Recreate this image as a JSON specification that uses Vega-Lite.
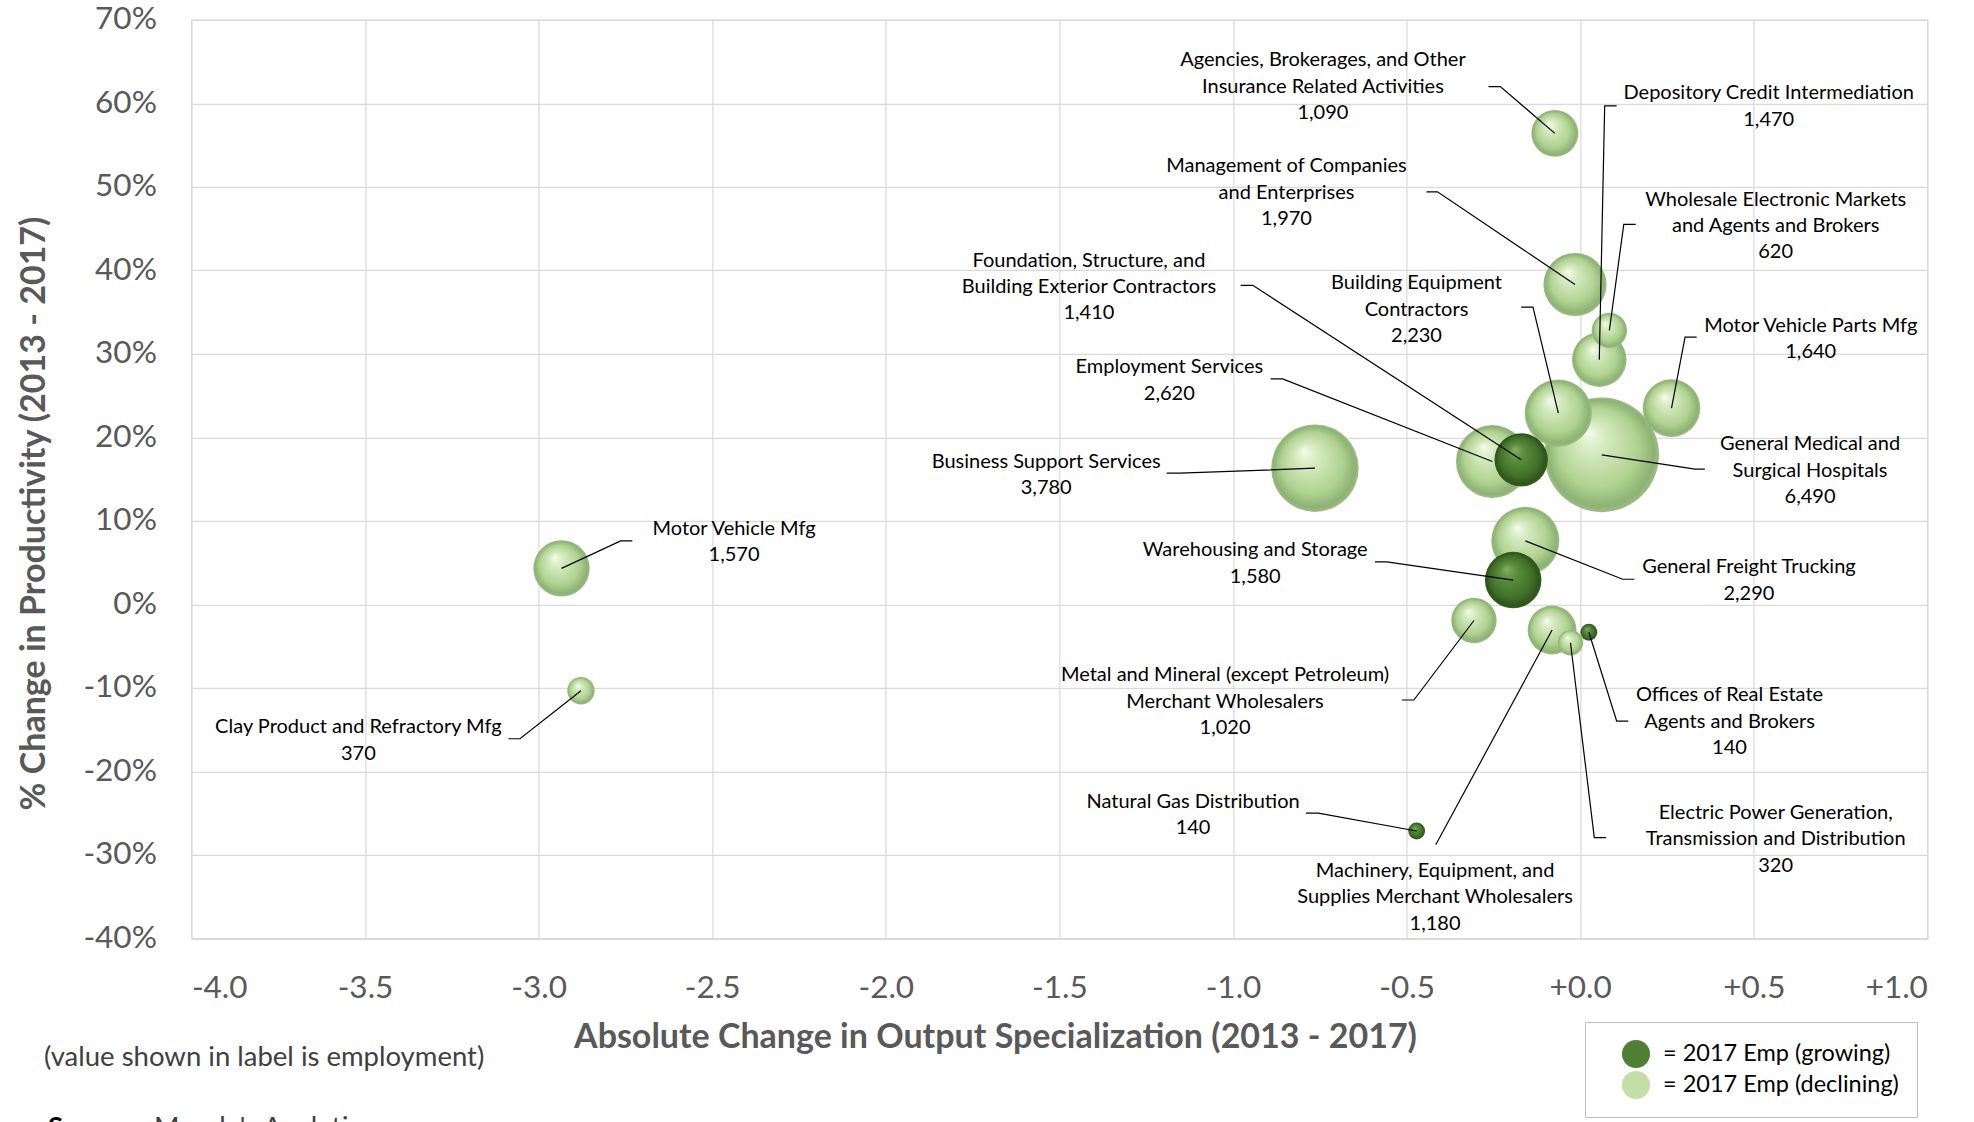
{
  "$schema": "https://vega.github.io/schema/vega-lite/v6.json",
  "autosize": "none",
  "width": 1736,
  "height": 918.5,
  "padding": {"left": 191.4, "top": 19.8, "right": 46.6, "bottom": 183.7},
  "background": "white",
  "config": {
    "view": {"stroke": "#d9d9d9", "strokeWidth": 1.2},
    "font": "Lato",
    "axis": {
      "grid": true, "gridColor": "#d9d9d9", "gridWidth": 1.2,
      "domain": false, "ticks": false,
      "labelFont": "Lato", "labelFontSize": 31.5, "labelColor": "#595959",
      "titleFont": "Lato", "titleFontSize": 34, "titleFontWeight": "bold", "titleColor": "#595959"
    }
  },
  "datasets": {
    "bubbles": [
      {"name": "Agencies", "x": -0.073, "y": 56.4, "emp": 1090, "trend": "declining"},
      {"name": "Depository", "x": 0.055, "y": 29.3, "emp": 1470, "trend": "declining"},
      {"name": "Management", "x": -0.015, "y": 38.3, "emp": 1970, "trend": "declining"},
      {"name": "Wholesale Electronic", "x": 0.084, "y": 32.8, "emp": 620, "trend": "declining"},
      {"name": "Building Equipment", "x": -0.063, "y": 22.9, "emp": 2230, "trend": "declining"},
      {"name": "Motor Vehicle Parts", "x": 0.263, "y": 23.5, "emp": 1640, "trend": "declining"},
      {"name": "General Medical", "x": 0.062, "y": 17.9, "emp": 6490, "trend": "declining"},
      {"name": "Foundation", "x": -0.170, "y": 17.3, "emp": 1410, "trend": "growing"},
      {"name": "Employment", "x": -0.253, "y": 17.1, "emp": 2620, "trend": "declining"},
      {"name": "Business Support", "x": -0.764, "y": 16.3, "emp": 3780, "trend": "declining"},
      {"name": "Motor Vehicle Mfg", "x": -2.934, "y": 4.3, "emp": 1570, "trend": "declining"},
      {"name": "Clay Product", "x": -2.878, "y": -10.35, "emp": 370, "trend": "declining"},
      {"name": "Warehousing", "x": -0.193, "y": 2.9, "emp": 1580, "trend": "growing"},
      {"name": "General Freight", "x": -0.158, "y": 7.6, "emp": 2290, "trend": "declining"},
      {"name": "Metal and Mineral", "x": -0.306, "y": -1.94, "emp": 1020, "trend": "declining"},
      {"name": "Natural Gas", "x": -0.471, "y": -27.15, "emp": 140, "trend": "growing"},
      {"name": "Machinery", "x": -0.081, "y": -3.08, "emp": 1180, "trend": "declining"},
      {"name": "Offices of Real Estate", "x": 0.025, "y": -3.35, "emp": 140, "trend": "growing"},
      {"name": "Electric Power", "x": -0.028, "y": -4.6, "emp": 320, "trend": "declining"}
    ],
    "labels": [
      {"name": "Agencies", "x": -0.741, "y": 65.16, "text": "Agencies, Brokerages, and Other\nInsurance Related Activities\n1,090"},
      {"name": "Depository", "x": 0.543, "y": 61.18, "text": "Depository Credit Intermediation\n1,470"},
      {"name": "Management", "x": -0.846, "y": 52.46, "text": "Management of Companies\nand Enterprises\n1,970"},
      {"name": "Wholesale Electronic", "x": 0.563, "y": 48.46, "text": "Wholesale Electronic Markets\nand Agents and Brokers\n620"},
      {"name": "Building Equipment", "x": -0.4715, "y": 38.46, "text": "Building Equipment\nContractors\n2,230"},
      {"name": "Motor Vehicle Parts", "x": 0.664, "y": 33.38, "text": "Motor Vehicle Parts Mfg\n1,640"},
      {"name": "General Medical", "x": 0.662, "y": 19.16, "text": "General Medical and\nSurgical Hospitals\n6,490"},
      {"name": "Foundation", "x": -1.415, "y": 41.16, "text": "Foundation, Structure, and\nBuilding Exterior Contractors\n1,410"},
      {"name": "Employment", "x": -1.1835, "y": 28.38, "text": "Employment Services\n2,620"},
      {"name": "Business Support", "x": -1.538, "y": 17.08, "text": "Business Support Services\n3,780"},
      {"name": "Motor Vehicle Mfg", "x": -2.437, "y": 9.04, "text": "Motor Vehicle Mfg\n1,570"},
      {"name": "Clay Product", "x": -3.519, "y": -14.72, "text": "Clay Product and Refractory Mfg\n370"},
      {"name": "Warehousing", "x": -0.936, "y": 6.48, "text": "Warehousing and Storage\n1,580"},
      {"name": "General Freight", "x": 0.486, "y": 4.43, "text": "General Freight Trucking\n2,290"},
      {"name": "Metal and Mineral", "x": -1.023, "y": -8.5, "text": "Metal and Mineral (except Petroleum)\nMerchant Wholesalers\n1,020"},
      {"name": "Natural Gas", "x": -1.115, "y": -23.62, "text": "Natural Gas Distribution\n140"},
      {"name": "Machinery", "x": -0.418, "y": -31.94, "text": "Machinery, Equipment, and\nSupplies Merchant Wholesalers\n1,180"},
      {"name": "Offices of Real Estate", "x": 0.430, "y": -10.9, "text": "Offices of Real Estate\nAgents and Brokers\n140"},
      {"name": "Electric Power", "x": 0.563, "y": -24.98, "text": "Electric Power Generation,\nTransmission and Distribution\n320"}
    ],
    "leaders": [
      {"name": "Agencies", "ord": 1, "x": -0.264, "y": 62.0},
      {"name": "Agencies", "ord": 2, "x": -0.230, "y": 62.0},
      {"name": "Agencies", "ord": 3, "x": -0.073, "y": 56.4},
      {"name": "Depository", "ord": 1, "x": 0.105, "y": 59.7},
      {"name": "Depository", "ord": 2, "x": 0.0705, "y": 59.7},
      {"name": "Depository", "ord": 3, "x": 0.055, "y": 29.3},
      {"name": "Management", "ord": 1, "x": -0.443, "y": 49.4},
      {"name": "Management", "ord": 2, "x": -0.411, "y": 49.4},
      {"name": "Management", "ord": 3, "x": -0.015, "y": 38.3},
      {"name": "Wholesale Electronic", "ord": 1, "x": 0.160, "y": 45.5},
      {"name": "Wholesale Electronic", "ord": 2, "x": 0.1255, "y": 45.5},
      {"name": "Wholesale Electronic", "ord": 3, "x": 0.084, "y": 32.8},
      {"name": "Building Equipment", "ord": 1, "x": -0.170, "y": 35.6},
      {"name": "Building Equipment", "ord": 2, "x": -0.136, "y": 35.6},
      {"name": "Building Equipment", "ord": 3, "x": -0.063, "y": 22.9},
      {"name": "Motor Vehicle Parts", "ord": 1, "x": 0.3355, "y": 32.0},
      {"name": "Motor Vehicle Parts", "ord": 2, "x": 0.302, "y": 32.0},
      {"name": "Motor Vehicle Parts", "ord": 3, "x": 0.263, "y": 23.5},
      {"name": "General Medical", "ord": 1, "x": 0.359, "y": 16.2},
      {"name": "General Medical", "ord": 2, "x": 0.331, "y": 16.2},
      {"name": "General Medical", "ord": 3, "x": 0.062, "y": 17.9},
      {"name": "Foundation", "ord": 1, "x": -0.978, "y": 38.2},
      {"name": "Foundation", "ord": 2, "x": -0.943, "y": 38.2},
      {"name": "Foundation", "ord": 3, "x": -0.170, "y": 17.3},
      {"name": "Employment", "ord": 1, "x": -0.8915, "y": 27.0},
      {"name": "Employment", "ord": 2, "x": -0.857, "y": 27.0},
      {"name": "Employment", "ord": 3, "x": -0.253, "y": 17.1},
      {"name": "Business Support", "ord": 1, "x": -1.191, "y": 15.7},
      {"name": "Business Support", "ord": 2, "x": -1.153, "y": 15.7},
      {"name": "Business Support", "ord": 3, "x": -0.764, "y": 16.3},
      {"name": "Motor Vehicle Mfg", "ord": 1, "x": -2.730, "y": 7.6},
      {"name": "Motor Vehicle Mfg", "ord": 2, "x": -2.7635, "y": 7.6},
      {"name": "Motor Vehicle Mfg", "ord": 3, "x": -2.934, "y": 4.3},
      {"name": "Clay Product", "ord": 1, "x": -3.087, "y": -16.1},
      {"name": "Clay Product", "ord": 2, "x": -3.0536, "y": -16.1},
      {"name": "Clay Product", "ord": 3, "x": -2.878, "y": -10.35},
      {"name": "Warehousing", "ord": 1, "x": -0.591, "y": 5.07},
      {"name": "Warehousing", "ord": 2, "x": -0.557, "y": 5.07},
      {"name": "Warehousing", "ord": 3, "x": -0.193, "y": 2.9},
      {"name": "General Freight", "ord": 1, "x": 0.156, "y": 3.0},
      {"name": "General Freight", "ord": 2, "x": 0.1224, "y": 3.0},
      {"name": "General Freight", "ord": 3, "x": -0.158, "y": 7.6},
      {"name": "Metal and Mineral", "ord": 1, "x": -0.514, "y": -11.46},
      {"name": "Metal and Mineral", "ord": 2, "x": -0.479, "y": -11.46},
      {"name": "Metal and Mineral", "ord": 3, "x": -0.306, "y": -1.94},
      {"name": "Natural Gas", "ord": 1, "x": -0.790, "y": -25.0},
      {"name": "Natural Gas", "ord": 2, "x": -0.7543, "y": -25.0},
      {"name": "Natural Gas", "ord": 3, "x": -0.471, "y": -27.15},
      {"name": "Machinery", "ord": 1, "x": -0.416, "y": -28.8},
      {"name": "Machinery", "ord": 2, "x": -0.081, "y": -3.08},
      {"name": "Offices of Real Estate", "ord": 1, "x": 0.1385, "y": -13.98},
      {"name": "Offices of Real Estate", "ord": 2, "x": 0.105, "y": -13.98},
      {"name": "Offices of Real Estate", "ord": 3, "x": 0.025, "y": -3.35},
      {"name": "Electric Power", "ord": 1, "x": 0.0743, "y": -27.95},
      {"name": "Electric Power", "ord": 2, "x": 0.0406, "y": -27.95},
      {"name": "Electric Power", "ord": 3, "x": -0.028, "y": -4.6}
    ],
    "xticks": [{"x": -4}, {"x": -3.5}, {"x": -3}, {"x": -2.5}, {"x": -2}, {"x": -1.5}, {"x": -1}, {"x": -0.5}, {"x": 0}, {"x": 0.5}, {"x": 1}],
    "yticks": [{"y": -40}, {"y": -30}, {"y": -20}, {"y": -10}, {"y": 0}, {"y": 10}, {"y": 20}, {"y": 30}, {"y": 40}, {"y": 50}, {"y": 60}, {"y": 70}],
    "notes": [
      {"x": -4.4245, "y": -55.35, "text": "(value shown in label is employment)"},
      {"x": -4.108, "y": -63.7, "text": "Moody's Analytics"}
    ],
    "notesBold": [
      {"x": -4.413, "y": -63.7, "text": "Source:"}
    ]
  },
  "encoding": {
    "x": {
      "field": "x", "type": "quantitative",
      "scale": {"domain": [-4, 1], "nice": false, "zero": false},
      "axis": {
        "title": "Absolute Change in Output Specialization (2013 - 2017)",
        "values": [-4, -3.5, -3, -2.5, -2, -1.5, -1, -0.5, 0, 0.5, 1],
        "labelExpr": "datum.value > 0 ? '+' + format(datum.value, '.1f') : (datum.value == 0 ? '+0.0' : '-' + format(-datum.value, '.1f'))",
        "labelPadding": 34,
        "titleX": 803.6, "titleY": 108.7, "titleBaseline": "alphabetic", "titleAlign": "center"
      }
    },
    "y": {
      "field": "y", "type": "quantitative",
      "scale": {"domain": [-40, 70], "nice": false, "zero": false},
      "axis": {
        "title": "% Change in Productivity (2013 - 2017)",
        "values": [-40, -30, -20, -10, 0, 10, 20, 30, 40, 50, 60, 70],
        "labelExpr": "datum.value + '%'",
        "labelPadding": 35,
        "titleX": -157.1, "titleY": 493.2, "titleBaseline": "middle", "titleAlign": "center"
      }
    }
  },
  "layer": [
    {
      "data": {"values": [{}]},
      "mark": {"type": "rule", "color": "#ff0000", "strokeWidth": 5},
      "encoding": {"x": {"datum": -4}, "x2": {"datum": 1}, "y": {"datum": 0}}
    },
    {
      "data": {"values": [{}]},
      "mark": {"type": "rule", "color": "#ff0000", "strokeWidth": 5},
      "encoding": {"x": {"datum": 0}, "y": {"datum": -40}, "y2": {"datum": 70}}
    },
    {
      "data": {"name": "xticks"},
      "mark": {"type": "rule", "color": "#ff0000", "strokeWidth": 4},
      "encoding": {"y": {"datum": 0}, "y2": {"datum": -1.2}}
    },
    {
      "data": {"name": "yticks"},
      "mark": {"type": "rule", "color": "#ff0000", "strokeWidth": 4},
      "encoding": {"x": {"datum": 0}, "x2": {"datum": -0.03}}
    },
    {
      "data": {"name": "bubbles"},
      "transform": [{"filter": "datum.trend === 'declining'"}],
      "mark": {"type": "circle", "opacity": 1, "strokeWidth": 0,
        "color": {"gradient": "radial", "x1": 0.38, "y1": 0.3, "r1": 0, "x2": 0.5, "y2": 0.5, "r2": 0.5,
          "stops": [{"offset": 0, "color": "#f5fbec"}, {"offset": 0.25, "color": "#d6ebc0"}, {"offset": 0.7, "color": "#b0d291"}, {"offset": 0.93, "color": "#8db274"}, {"offset": 1, "color": "#9cbf83"}]}},
      "encoding": {
        "size": {"field": "emp", "type": "quantitative", "scale": {"type": "linear", "domain": [0, 6490], "range": [0, 13133], "zero": true}, "legend": null},
        "order": {"field": "emp", "type": "quantitative", "sort": "descending"}
      }
    },
    {
      "data": {"name": "bubbles"},
      "transform": [{"filter": "datum.trend === 'growing'"}],
      "mark": {"type": "circle", "opacity": 1, "strokeWidth": 0,
        "color": {"gradient": "radial", "x1": 0.38, "y1": 0.3, "r1": 0, "x2": 0.5, "y2": 0.5, "r2": 0.5,
          "stops": [{"offset": 0, "color": "#82b065"}, {"offset": 0.3, "color": "#5a8d3c"}, {"offset": 0.75, "color": "#406e28"}, {"offset": 0.94, "color": "#2d531a"}, {"offset": 1, "color": "#3a6424"}]}},
      "encoding": {
        "size": {"field": "emp", "type": "quantitative", "scale": {"type": "linear", "domain": [0, 6490], "range": [0, 13133], "zero": true}, "legend": null},
        "order": {"field": "emp", "type": "quantitative", "sort": "descending"}
      }
    },
    {
      "data": {"name": "bubbles"},
      "mark": {"type": "circle", "opacity": 1, "strokeWidth": 0},
      "encoding": {
        "size": {"value": 0},
        "color": {
          "field": "trend", "type": "nominal",
          "scale": {"domain": ["growing", "declining"], "range": ["#4f7f33", "#c3dfa6"]},
          "legend": {
            "title": null, "orient": "none", "legendX": 1393.6, "legendY": 1002.2,
            "padding": 18, "strokeColor": "#bfbfbf", "symbolOffset": 19,
            "symbolType": "circle", "symbolSize": 784, "symbolStrokeWidth": 0, "symbolOpacity": 1,
            "labelFont": "Lato", "labelFontSize": 23.5, "labelColor": "#000000", "labelOffset": 13, "labelLimit": 500,
            "rowPadding": 3,
            "labelExpr": "'= 2017 Emp (' + datum.label + ')'",
            "encode": {
              "symbols": {
                "enter": {
                  "fill": [
                    {"test": "datum.value === 'growing'", "value": {"gradient": "radial", "x1": 0.38, "y1": 0.3, "r1": 0, "x2": 0.5, "y2": 0.5, "r2": 0.5,
                      "stops": [{"offset": 0, "color": "#82b065"}, {"offset": 0.3, "color": "#5a8d3c"}, {"offset": 0.75, "color": "#406e28"}, {"offset": 1, "color": "#2d531a"}]}},
                    {"value": {"gradient": "radial", "x1": 0.38, "y1": 0.3, "r1": 0, "x2": 0.5, "y2": 0.5, "r2": 0.5,
                      "stops": [{"offset": 0, "color": "#f5fbec"}, {"offset": 0.25, "color": "#d6ebc0"}, {"offset": 0.7, "color": "#b0d291"}, {"offset": 1, "color": "#8db274"}]}}
                  ]
                },
                "update": {
                  "fill": [
                    {"test": "datum.value === 'growing'", "value": {"gradient": "radial", "x1": 0.38, "y1": 0.3, "r1": 0, "x2": 0.5, "y2": 0.5, "r2": 0.5,
                      "stops": [{"offset": 0, "color": "#82b065"}, {"offset": 0.3, "color": "#5a8d3c"}, {"offset": 0.75, "color": "#406e28"}, {"offset": 1, "color": "#2d531a"}]}},
                    {"value": {"gradient": "radial", "x1": 0.38, "y1": 0.3, "r1": 0, "x2": 0.5, "y2": 0.5, "r2": 0.5,
                      "stops": [{"offset": 0, "color": "#f5fbec"}, {"offset": 0.25, "color": "#d6ebc0"}, {"offset": 0.7, "color": "#b0d291"}, {"offset": 1, "color": "#8db274"}]}}
                  ],
                  "opacity": {"value": 1}
                }
              }
            }
          }
        }
      }
    },
    {
      "data": {"name": "leaders"},
      "mark": {"type": "line", "color": "#000000", "strokeWidth": 1.2},
      "encoding": {"detail": {"field": "name", "type": "nominal"}, "order": {"field": "ord", "type": "quantitative"}}
    },
    {
      "data": {"name": "labels"},
      "mark": {"type": "text", "align": "center", "baseline": "middle", "lineBreak": "\n", "font": "Lato", "fontSize": 20, "lineHeight": 26.4, "color": "#000000"},
      "encoding": {"text": {"field": "text", "type": "nominal"}}
    },
    {
      "data": {"name": "notes"},
      "mark": {"type": "text", "align": "left", "baseline": "alphabetic", "font": "Lato", "fontSize": 27.5, "color": "#404040"},
      "encoding": {"text": {"field": "text", "type": "nominal"}}
    },
    {
      "data": {"name": "notesBold"},
      "mark": {"type": "text", "align": "left", "baseline": "alphabetic", "font": "Lato", "fontSize": 27.5, "fontWeight": "bold", "color": "#000000"},
      "encoding": {"text": {"field": "text", "type": "nominal"}}
    }
  ]
}
